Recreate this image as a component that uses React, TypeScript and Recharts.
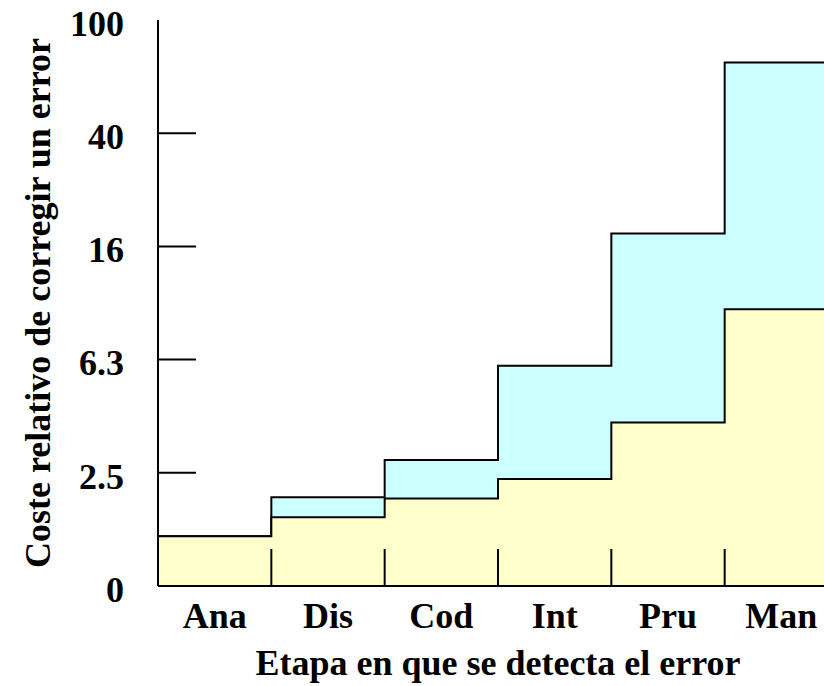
import { AreaChart, Area, XAxis, YAxis } from 'recharts';

const stages = ['Ana', 'Dis', 'Cod', 'Int', 'Pru', 'Man'];
const lowerCost = [1.5, 1.75, 2.04, 2.39, 3.78, 9.5];
const upperCost = [1.5, 2.06, 2.79, 6.0, 17.6, 70.7];
const yTicks = [1, 2.512, 6.31, 15.85, 39.81, 100];
const yTickLabels = ['0', '2.5', '6.3', '16', '40', '100'];

const last = stages.length - 1;
// stepAfter needs one closing point at the right edge of the last band
const data = [
  ...stages.map((s, i) => ({ pos: i, stage: s, lower: lowerCost[i], upper: upperCost[i] })),
  { pos: stages.length, stage: '', lower: lowerCost[last], upper: upperCost[last] },
];

const font = "'Liberation Serif', 'Times New Roman', serif";
const textStyle = { fill: '#000', fontSize: 36, fontWeight: 'bold', fontFamily: font };
const line = { stroke: '#000', strokeWidth: 2 };

function XTitle({ viewBox }: any) {
  const cx = viewBox.x + viewBox.width / 2;
  return (
    <text x={cx} y={viewBox.y + 89} textAnchor="middle" {...textStyle}>
      Etapa en que se detecta el error
    </text>
  );
}

function YTitle({ viewBox }: any) {
  const x = viewBox.x + 50;
  const cy = viewBox.y + viewBox.height / 2;
  return (
    <text x={x} y={cy} transform={`rotate(-90, ${x}, ${cy})`} textAnchor="middle" {...textStyle}>
      Coste relativo de corregir un error
    </text>
  );
}

export default function App() {
  return (
    <div style={{ position: 'fixed', left: 0, top: 0, width: 824, height: 686, overflow: 'hidden', background: '#fff' }}>
      <AreaChart width={850} height={686} data={data} margin={{ top: 20, right: 12, bottom: 0, left: 0 }}>
        <Area
          xAxisId="x"
          yAxisId="y"
          type="stepAfter"
          dataKey="upper"
          stroke="#000"
          strokeWidth={2}
          fill="#CCFFFF"
          fillOpacity={1}
          baseValue={1}
          isAnimationActive={false}
        />
        <Area
          xAxisId="x"
          yAxisId="y"
          type="stepAfter"
          dataKey="lower"
          stroke="#000"
          strokeWidth={2}
          fill="#FFFFCC"
          fillOpacity={1}
          baseValue={1}
          isAnimationActive={false}
        />
        <XAxis
          xAxisId="x"
          dataKey="pos"
          type="number"
          domain={[0, stages.length]}
          allowDataOverflow
          ticks={stages.map((_, i) => i + 0.5)}
          tickFormatter={(v: number) => stages[Math.floor(v)]}
          interval={0}
          tickLine={false}
          tickSize={0}
          tickMargin={16}
          axisLine={line}
          height={100}
          tick={textStyle}
          label={<XTitle />}
        />
        <XAxis
          xAxisId="xm"
          type="number"
          domain={[0, stages.length]}
          allowDataOverflow
          ticks={stages.slice(1).map((_, i) => i + 1)}
          interval={0}
          mirror
          tickSize={37}
          tickFormatter={() => ''}
          axisLine={false}
          tickLine={line}
        />
        <XAxis
          xAxisId="top"
          orientation="top"
          type="number"
          domain={[0, stages.length]}
          height={0}
          tick={false}
          tickLine={false}
          axisLine={line}
        />
        <YAxis
          yAxisId="y"
          type="number"
          scale="log"
          domain={[1, 100]}
          allowDataOverflow
          ticks={yTicks}
          interval={0}
          tickFormatter={(v: number) => yTickLabels[yTicks.indexOf(v)]}
          width={158}
          tickLine={false}
          tickSize={0}
          tickMargin={34}
          axisLine={line}
          tick={{ ...textStyle, dy: 3 }}
          label={<YTitle />}
        />
        <YAxis
          yAxisId="ym"
          type="number"
          scale="log"
          domain={[1, 100]}
          allowDataOverflow
          ticks={yTicks.slice(1, -1)}
          interval={0}
          mirror
          tickSize={38}
          tickFormatter={() => ''}
          axisLine={false}
          tickLine={line}
        />
        <YAxis
          yAxisId="right"
          orientation="right"
          type="number"
          domain={[0, 1]}
          width={0}
          tick={false}
          tickLine={false}
          axisLine={line}
        />
      </AreaChart>
    </div>
  );
}
